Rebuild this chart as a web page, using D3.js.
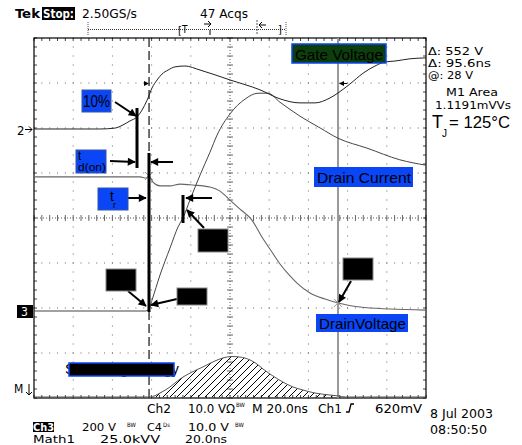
<!DOCTYPE html>
<html><head><meta charset="utf-8">
<script src="https://cdn.jsdelivr.net/npm/d3@7/dist/d3.min.js"></script>
<style>body{margin:0;background:#fff}svg{display:block}</style>
</head><body><svg id="c" width="522" height="445"></svg>
<script>
// ---- data (time in ns across 10 div x 20 ns) ----
const gateT = [0,33.7,41.3,45.4,49.0,52.6,55.1,57.7,60.2,62.8,65.3,68.4,71.9,77.0,84.7,100,115.3,125.5,135.7,143.4,151.0,155.1,161.2,167.9,174.0,179.1,184.2,191.8,200];
const gateV = [0,0,0.2,0.9,1.8,2.7,4.2,6.4,9.1,10.9,12.2,13.1,13.8,14.0,13.1,10.9,8.7,6.7,5.8,5.8,6.9,8.0,10.0,12.4,14.0,14.9,15.1,15.6,15.8];
const currT = [0,56.6,58.7,60.2,64.3,69.4,73.5,76.0,79.6,84.7,89.8,93.4,100,107.7,114.3,119.4,125.5,135.7,145.9,155.1,169.9,186.7,200];
const currV = [0,0,0.4,2.4,8.0,14.0,18.7,20.7,24.7,30.2,35.3,39.1,43.8,47.1,48.4,48.4,46.4,43.3,40.7,38.4,36.2,33.6,32.4];
const drainT = [0,54.1,57.1,58.7,60.7,64.3,69.4,74.5,81.1,89.8,94.9,100,105.1,111.2,116.3,121.4,125.5,130.6,134.2,140.8,148.5,155.1,166.3,181.6,200];
const drainV = [596,596,591,600,573,556,556,564,560,551,533,493,453,404,329,262,209,156,124,80,53,36,18,9,4];
const mathT = [0,59.2,64.3,69.4,74.5,79.6,86.2,92.3,96.4,101,105.1,110.2,113.8,116.8,121.9,127,132.1,137.2,143.4,151,155.1,158.7,200];
const mathE = [0,0,2.2,5.6,10.0,13.3,16.7,20.0,21.7,22.5,22.2,20.6,18.3,15.6,11.7,8.3,5.6,3.9,2.2,1.1,0.6,0,0];
const cursorsT = [58.7, 155.1];
const readouts = ["\u0394: 552 V","\u0394: 95.6ns","@: 28 V","M1 Area","1.1191mVVs"];
const labels = ["Gate Voltage","Drain Current","DrainVoltage"];

// ---- scales ----
const svg = d3.select("#c");
const X0=34,X1=426,Y0=38,Y1=398;
const x = d3.scaleLinear().domain([0,200]).range([X0,X1]);
const yDiv = d3.scaleLinear().domain([-4,4]).range([Y1,Y0]);
function chScale(offsetDiv, perDiv){ return v => yDiv(offsetDiv + v/perDiv); }
const yGate = chScale(1.978, 10);
const yCurr = chScale(-2.067, 10);
const yDrain = chScale(-2.067, 200);
const yMath = chScale(-3.978, 25);

svg.append("rect").attr("width",522).attr("height",445).attr("fill","#fff");

const defs = svg.append("defs");
defs.append("marker").attr("id","ah").attr("viewBox","0 0 10 10").attr("refX",9).attr("refY",5)
  .attr("markerWidth",9).attr("markerHeight",8).attr("markerUnits","userSpaceOnUse").attr("orient","auto")
  .append("path").attr("d","M0,0L10,5L0,10z").attr("fill","#000");
const pat = defs.append("pattern").attr("id","hatch").attr("width",7).attr("height",7).attr("patternUnits","userSpaceOnUse");
pat.append("path").attr("d","M-1,1l2,-2M0,7l7,-7M6,8l2,-2").attr("stroke","#000").attr("stroke-width",1);
defs.append("clipPath").attr("id","cur").append("rect").attr("x",x(cursorsT[0])).attr("y",Y0).attr("width",x(cursorsT[1])-x(cursorsT[0])).attr("height",Y1-Y0);

// ---- graticule ----
const g = svg.append("g");
const divX = d3.range(0,11).map(i=>X0+i*(X1-X0)/10);
const divY = d3.range(0,9).map(i=>Y0+i*(Y1-Y0)/8);
const subX = d3.range(0,51).map(i=>X0+i*(X1-X0)/50);
const subY = d3.range(0,41).map(i=>Y0+i*(Y1-Y0)/40);
divX.slice(1,-1).forEach((dx,i)=>{ if(i===4) return; subY.forEach(sy=>g.append("rect").attr("x",dx-0.5).attr("y",sy-0.5).attr("width",1).attr("height",1).attr("fill","#666")); });
divY.slice(1,-1).forEach((dy,i)=>{ if(i===3) return; subX.forEach(sx=>g.append("rect").attr("x",sx-0.5).attr("y",dy-0.5).attr("width",1).attr("height",1).attr("fill","#666")); });
const cx = divX[5], cy = divY[4];
g.append("line").attr("x1",cx).attr("x2",cx).attr("y1",Y0).attr("y2",Y1).attr("stroke","#555").attr("stroke-dasharray","1,2");
g.append("line").attr("y1",cy).attr("y2",cy).attr("x1",X0).attr("x2",X1).attr("stroke","#555").attr("stroke-dasharray","1,2");
subY.forEach(sy=>g.append("line").attr("x1",cx-3).attr("x2",cx+3).attr("y1",sy).attr("y2",sy).attr("stroke","#666"));
subX.forEach(sx=>g.append("line").attr("y1",cy-3).attr("y2",cy+3).attr("x1",sx).attr("x2",sx).attr("stroke","#666"));
subX.forEach(sx=>{g.append("line").attr("x1",sx).attr("x2",sx).attr("y1",Y0).attr("y2",Y0+3).attr("stroke","#444");
  g.append("line").attr("x1",sx).attr("x2",sx).attr("y1",Y1-3).attr("y2",Y1).attr("stroke","#444");});
subY.forEach(sy=>{g.append("line").attr("y1",sy).attr("y2",sy).attr("x1",X0).attr("x2",X0+3).attr("stroke","#444");
  g.append("line").attr("y1",sy).attr("y2",sy).attr("x1",X1-3).attr("x2",X1).attr("stroke","#444");});
g.append("rect").attr("x",X0).attr("y",Y0).attr("width",X1-X0).attr("height",Y1-Y0).attr("fill","none").attr("stroke","#000").attr("stroke-width",1.2);

// ---- cursors ----
svg.append("line").attr("x1",x(cursorsT[0])).attr("x2",x(cursorsT[0])).attr("y1",Y0).attr("y2",Y1).attr("stroke","#111").attr("stroke-width",1.2).attr("stroke-dasharray","9,4");
svg.append("line").attr("x1",x(cursorsT[1])).attr("x2",x(cursorsT[1])).attr("y1",Y0).attr("y2",Y1).attr("stroke","#9a9a9a").attr("stroke-width",2);

// ---- math (hatched energy) ----
const curve = d3.curveMonotoneX;
const area = d3.area().x((d,i)=>x(mathT[i])).y0(yMath(0)).y1((d,i)=>yMath(mathE[i])).curve(curve);
svg.append("path").attr("d",area(mathE)).attr("fill","url(#hatch)").attr("clip-path","url(#cur)");
const line = (T,sc)=>d3.line().x((d,i)=>x(T[i])).y(d=>sc(d)).curve(curve);
svg.append("path").attr("d",line(mathT,yMath)(mathE)).attr("fill","none").attr("stroke","#555").attr("stroke-width",1);

// ---- traces ----
svg.append("path").attr("d",line(drainT,yDrain)(drainV)).attr("fill","none").attr("stroke","#666").attr("stroke-width",1.1);
svg.append("path").attr("d",line(currT,yCurr)(currV)).attr("fill","none").attr("stroke","#444").attr("stroke-width",1);
svg.append("path").attr("d",line(gateT,yGate)(gateV)).attr("fill","none").attr("stroke","#222").attr("stroke-width",1);

[[cursorsT[0], yDrain(600)],[cursorsT[1], yDrain(36)]].forEach(([t,yy])=>{
  const px=x(t);
  svg.append("path").attr("d",`M${px-4},${yy-4}L${px+4},${yy+4}M${px-4},${yy+4}L${px+4},${yy-4}`).attr("stroke","#999").attr("stroke-width",1);
});
svg.append("path").attr("d",`M144,81L149,83.5L144,86z`).attr("fill","#000");
svg.append("path").attr("d",`M344,81L339,83.5L344,86z`).attr("fill","#000");
svg.append("line").attr("x1",344).attr("x2",347).attr("y1",83.5).attr("y2",83.5).attr("stroke","#000");

// ---- annotation bars ----
const bars = [[137,108,168],[149,153,312],[183,195,223]];
bars.forEach(b=>svg.append("line").attr("x1",b[0]).attr("x2",b[0]).attr("y1",b[1]).attr("y2",b[2]).attr("stroke","#000").attr("stroke-width",3));

// ---- arrows ----
const arrows = [[115,102,136,116],[110,161,135,162],[173,162,151,162],[128,198,146,198],[212,198,186,198],[204,228,187,210],[128,291,146,306],[177,299,151,305],[351,281,339,302]];
arrows.forEach(a=>svg.append("line").attr("x1",a[0]).attr("y1",a[1]).attr("x2",a[2]).attr("y2",a[3]).attr("stroke","#000").attr("stroke-width",2).attr("marker-end","url(#ah)"));

// ---- boxes ----
const BLUE="#0a46f5";
function box(x0,y0,w,h,fill,stroke){ return svg.append("rect").attr("x",x0).attr("y",y0).attr("width",w).attr("height",h).attr("fill",fill).attr("stroke",stroke||"none").attr("stroke-width",1); }
[[198,229,30,23],[106,269,30,22],[177,288,30,17],[343,258,30,22]].forEach(b=>box(b[0],b[1],b[2],b[3],"#000","#888"));
box(82,90,29,22,BLUE,"#3355aa");
box(76,150,30,23,BLUE,"#3355aa");
box(98,188,30,22,BLUE,"#3355aa");
box(292,44,94,19,"#0c3f0c",BLUE).attr("stroke-width",1.5);
box(314,167,99,20,BLUE);
box(316,314,92,18,BLUE);

const SANS="Liberation Sans, Arial, sans-serif";
const SCOPE="DejaVu Sans Condensed, DejaVu Sans, sans-serif";
function txt(x0,y0,s,size,fam,opts={}){
  const t=svg.append("text").attr("x",x0).attr("y",y0).attr("font-size",size).attr("font-family",fam).attr("fill",opts.fill||"#000").text(s);
  if(opts.anchor) t.attr("text-anchor",opts.anchor);
  if(opts.weight) t.attr("font-weight",opts.weight);
  if(opts.len) t.attr("textLength",opts.len).attr("lengthAdjust","spacingAndGlyphs");
  return t;
}
txt(83,107,"10%",16,SANS,{len:27});
txt(78,160,"t",12,SANS);
txt(78,171,"d(on)",10,SANS,{len:28});
txt(110,201,"t",14,SANS);
txt(113,208,"r",9,SANS);
txt(295,60,labels[0],15,SANS,{len:88});
txt(317,183,labels[1],15,SANS,{len:94});
txt(319,329,labels[2],15,SANS,{len:87});

txt(65,374,"Switching Energy",14,SANS,{len:114});
box(69,363,105,13,"#000",BLUE).attr("stroke-width",1.5);

// ---- readouts ----
txt(428,55,readouts[0],10.5,SCOPE,{len:55});
txt(428,67,readouts[1],10.5,SCOPE,{len:63});
txt(428,79,readouts[2],10.5,SCOPE,{len:45});
txt(446,96,readouts[3],11,SCOPE,{len:52});
txt(435,109,readouts[4],11,SCOPE,{len:76});
txt(432,128,"T",18,SANS);
txt(442,137,"J",10,SANS);
txt(449,128,"= 125\u00B0C",17,SANS,{len:61});

// ---- top status ----
txt(15,18,"Tek",13,SCOPE,{weight:"bold",len:25});
box(42,7,33,13,"#000");
txt(43,18,"Stop:",13,SCOPE,{weight:"bold",fill:"#fff",len:31});
txt(82,18,"2.50GS/s",13,SCOPE,{len:55});
txt(200,18,"47 Acqs",13,SCOPE,{len:48});
svg.append("line").attr("x1",88).attr("x2",286).attr("y1",29.5).attr("y2",29.5).attr("stroke","#333").attr("stroke-dasharray","1,1");
[88,286].forEach(px=>svg.append("line").attr("x1",px).attr("x2",px).attr("y1",22).attr("y2",35).attr("stroke","#555").attr("stroke-dasharray","1,1"));
txt(178,34,"[",11,SCOPE);
txt(182,33,"T",10,SCOPE);
svg.append("path").attr("d","M204,24L211,24M208,21L211,24L208,27").attr("stroke","#000").attr("fill","none");
svg.append("line").attr("x1",210).attr("x2",210).attr("y1",30).attr("y2",35).attr("stroke","#000");
svg.append("line").attr("x1",257).attr("x2",257).attr("y1",20).attr("y2",34).attr("stroke","#555").attr("stroke-dasharray","2,1");
svg.append("path").attr("d","M266,25L259,25M262,22L259,25L262,28").attr("stroke","#000").attr("fill","none");
txt(278,33,"]",11,SCOPE);

// ---- channel ground markers ----
txt(17,135,"2",13,SCOPE);
svg.append("path").attr("d","M25,129.5L32,129.5M29,126.5L32,129.5L29,132.5").attr("stroke","#000").attr("fill","none");
box(17,305,16,13,"#000");
txt(21,316,"3",12,SCOPE,{fill:"#fff"});
txt(14,393,"M",12,SCOPE);
svg.append("path").attr("d","M29,384L29,395M26,392L29,395L32,392").attr("stroke","#000").attr("fill","none");

// ---- bottom status ----
txt(147,413,"Ch2",12,SCOPE,{len:24});
txt(188,413,"10.0 V\u03A9",12,SCOPE,{len:47});
txt(236,407,"BW",6,SCOPE);
txt(252,413,"M 20.0ns",12,SCOPE,{len:56});
txt(318,413,"Ch1",12,SCOPE,{len:24});
svg.append("path").attr("d","M346,412L349,412L351,404L354,404").attr("stroke","#000").attr("fill","none").attr("stroke-width",1.3);
txt(375,413,"620mV",12,SCOPE,{len:47});
box(33,422,21,10,"#000");
txt(33,431,"Ch3",11,SCOPE,{fill:"#fff",weight:"bold",len:21});
txt(82,431,"200 V",11,SCOPE,{len:34});
txt(127,427,"BW",6,SCOPE);
txt(147,431,"C4",11,SCOPE,{len:15});
txt(163,427,"Ds",6,SCOPE);
txt(188,431,"10.0 V",11,SCOPE,{len:41});
txt(235,427,"BW",6,SCOPE);
txt(33,443,"Math1",11,SCOPE,{len:42});
txt(100,443,"25.0kVV",11,SCOPE,{len:60});
txt(185,443,"20.0ns",11,SCOPE,{len:42});
txt(430,418,"8 Jul 2003",12,SCOPE,{len:63});
txt(430,434,"08:50:50",12,SCOPE,{len:57});
</script></body></html>
